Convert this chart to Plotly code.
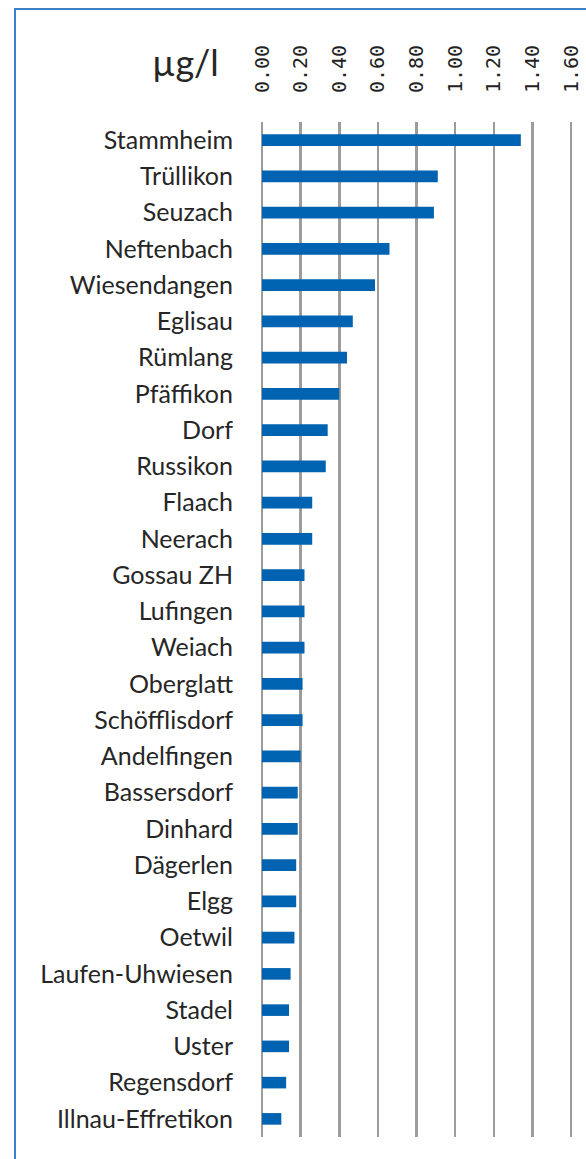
import plotly.graph_objects as go

categories = ["Stammheim", "Trüllikon", "Seuzach", "Neftenbach", "Wiesendangen", "Eglisau",
              "Rümlang", "Pfäffikon", "Dorf", "Russikon", "Flaach", "Neerach", "Gossau ZH",
              "Lufingen", "Weiach", "Oberglatt", "Schöfflisdorf", "Andelfingen", "Bassersdorf",
              "Dinhard", "Dägerlen", "Elgg", "Oetwil", "Laufen-Uhwiesen", "Stadel", "Uster",
              "Regensdorf", "Illnau-Effretikon"]
values = [1.34, 0.91, 0.89, 0.66, 0.585, 0.47, 0.44, 0.40, 0.34, 0.33, 0.26, 0.26, 0.22,
          0.22, 0.22, 0.21, 0.21, 0.20, 0.185, 0.185, 0.177, 0.177, 0.168, 0.148, 0.14, 0.14,
          0.125, 0.10]
tick_vals = [0.0, 0.2, 0.4, 0.6, 0.8, 1.0, 1.2, 1.4, 1.6]
tick_text = ["0.00", "0.20", "0.40", "0.60", "0.80", "1.00", "1.20", "1.40", "1.60"]
unit_label = "µg/l"

W, H = 586, 1159
L, T = 262, 122
R = W - 573
B = H - 1137
pw, ph = W - L - R, H - T - B


def px_x(x):
    return (x - L) / pw


def px_y(y):
    return 1 - (y - T) / ph


fig = go.Figure(go.Bar(
    x=values, y=categories, orientation="h",
    marker=dict(color="#0063B1", line=dict(width=0)),
))

fig.update_layout(
    width=W, height=H,
    margin=dict(l=L, r=R, t=T, b=B),
    paper_bgcolor="white", plot_bgcolor="white",
    bargap=0.68,
    showlegend=False,
    xaxis=dict(
        side="top", range=[0, 1.61], tickvals=tick_vals, ticktext=tick_text,
        tickangle=-90, showgrid=True, gridcolor="#9c9c9c", gridwidth=2.5,
        zeroline=True, zerolinecolor="#9c9c9c", zerolinewidth=2.5,
        showline=False, ticks="", ticklabelstandoff=28, automargin=False,
        tickfont=dict(family="DejaVu Sans Mono", size=20, color="#222222"),
    ),
    yaxis=dict(
        autorange="reversed", showgrid=False, zeroline=False, ticks="",
        ticklabelstandoff=28, automargin=False,
        tickfont=dict(family="Lato", size=25, color="#262626"),
    ),
    annotations=[dict(
        text=unit_label, xref="paper", yref="paper",
        x=px_x(185), y=px_y(62), xanchor="center", yanchor="middle",
        showarrow=False, font=dict(family="Lato", size=36, color="#262626"),
    )],
    shapes=[dict(
        type="rect", xref="paper", yref="paper",
        x0=px_x(15), x1=px_x(620), y0=px_y(1200), y1=px_y(9),
        line=dict(color="#3F7FC8", width=2), fillcolor="rgba(0,0,0,0)", layer="below",
    )],
)

fig.write_html(
    "out.html",
    config={"displayModeBar": False, "staticPlot": True},
    post_script="document.body.style.margin='0';document.documentElement.style.margin='0';"
                "document.body.style.overflow='hidden';",
)
